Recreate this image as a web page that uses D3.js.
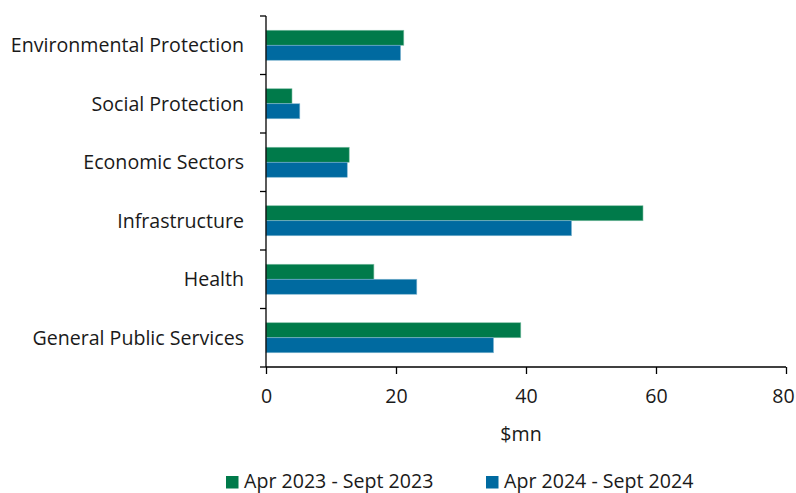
<!DOCTYPE html>
<html>
<head>
<meta charset="utf-8">
<script src="https://cdn.jsdelivr.net/npm/d3@7"></script>
<style>
  html, body { margin: 0; padding: 0; background: #fff; }
  svg text { font-family: "Open Sans", "Noto Sans", sans-serif; fill: #1a1a1a; }
</style>
</head>
<body>
<svg id="chart" width="796" height="493"></svg>
<script>
// Spending by function, $mn
const categories = ["Environmental Protection", "Social Protection", "Economic Sectors", "Infrastructure", "Health", "General Public Services"];
const seriesNames = ["Apr 2023 - Sept 2023", "Apr 2024 - Sept 2024"];
const values2023 = [21.2, 4.0, 12.8, 58.0, 16.6, 39.2];
const values2024 = [20.7, 5.2, 12.5, 47.0, 23.2, 35.0];
const xTicks = [0, 20, 40, 60, 80];
const xTitle = "$mn";
const colors = ["#007a4a", "#006aa0"];

const fontSize = 19.6;
const svg = d3.select("#chart");
const plotLeft = 266, plotRight = 786, plotTop = 16, plotBottom = 367;

const x = d3.scaleLinear().domain([0, 80]).range([plotLeft, plotRight]);
const y = d3.scaleBand().domain(categories).range([plotTop, plotBottom]).paddingInner(0).paddingOuter(0);
const barH = 15;

const series = [values2023, values2024];
const g = svg.append("g");
series.forEach((vals, si) => {
  g.selectAll(null).data(categories).enter().append("rect")
    .attr("x", x(0))
    .attr("y", (d) => y(d) + y.bandwidth() / 2 - barH + si * barH)
    .attr("width", (d, i) => x(vals[i]) - x(0))
    .attr("height", barH)
    .attr("fill", colors[si])
    .attr("stroke", si === 0 ? "#7fbfa5" : "#7fb4cf")
    .attr("stroke-width", 0.6);
});

// Category axis: tick marks at band boundaries
const yAxisG = svg.append("g");
yAxisG.append("line").attr("x1", plotLeft).attr("x2", plotLeft).attr("y1", plotTop).attr("y2", plotBottom)
  .attr("stroke", "#000").attr("stroke-width", 1.3);
const boundaries = categories.map(c => y(c)).concat([plotBottom]);
yAxisG.selectAll(null).data(boundaries).enter().append("line")
  .attr("x1", plotLeft - 6).attr("x2", plotLeft).attr("y1", d => d).attr("y2", d => d)
  .attr("stroke", "#000").attr("stroke-width", 1.3);
yAxisG.selectAll(null).data(categories).enter().append("text")
  .attr("x", 244).attr("y", d => y(d) + y.bandwidth() / 2 + 6.8)
  .attr("text-anchor", "end")
  .attr("font-size", fontSize).text(d => d);

// Value axis
const xAxis = d3.axisBottom(x).tickValues(xTicks).tickSize(7).tickPadding(8).tickFormat(d3.format("d"));
const xAxisG = svg.append("g").attr("transform", `translate(0,${plotBottom})`).call(xAxis);
xAxisG.select(".domain").attr("stroke", "#000").attr("stroke-width", 1.3).attr("d", `M${plotLeft},0H${plotRight}`);
xAxisG.selectAll(".tick line").attr("stroke", "#000").attr("stroke-width", 1.3);
xAxisG.selectAll(".tick text")
  .attr("y", 0).attr("dy", null).attr("transform", "translate(0,35.5)")
  .attr("dx", d => d === 80 ? -3 : 0)
  .attr("font-size", fontSize).attr("font-family", "\"Open Sans\", \"Noto Sans\", sans-serif").attr("fill", "#1a1a1a");

svg.append("text").attr("x", 521).attr("y", 441).attr("text-anchor", "middle")
  .attr("font-size", fontSize).text(xTitle);

// Legend
const legendX = [226, 486];
seriesNames.forEach((name, i) => {
  const lg = svg.append("g").attr("transform", `translate(${legendX[i]},476)`);
  lg.append("rect").attr("x", 0).attr("y", 0).attr("width", 12.5).attr("height", 12.5).attr("fill", colors[i]);
  lg.append("text").attr("x", 18).attr("y", 12)
    .attr("font-size", fontSize).text(name);
});
</script>
</body>
</html>
